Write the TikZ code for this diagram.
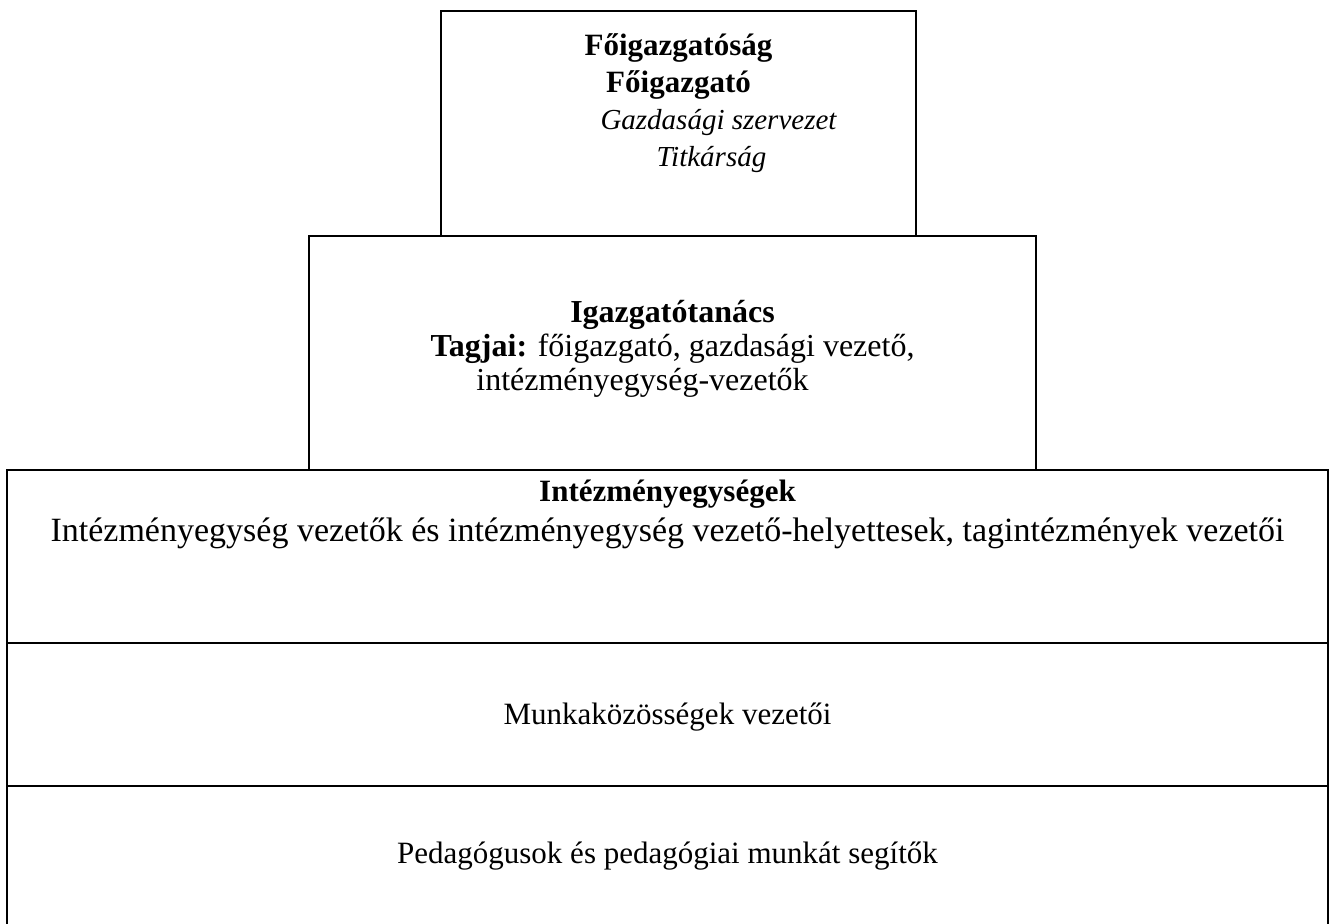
\documentclass[tikz,border=0pt]{standalone}
\usepackage{fontspec}
\setmainfont{Liberation Serif}
\usetikzlibrary{positioning}

\begin{document}
\begin{tikzpicture}[x=0.5pt, y=-0.5pt,
  level/.style={draw, line width=1.3pt, rectangle, outer sep=0pt, inner sep=0pt},
  txt/.style={align=center, inner sep=0pt, font=\fontsize{15.5}{18.5}\selectfont}]
  \useasboundingbox (0,0) rectangle (1332,924);
  % the levels, top to bottom
  \node[level, minimum width=237.5pt, minimum height=112.5pt] (fo) at (678.5,123.5) {};
  \node[level, minimum width=363.5pt, minimum height=117pt] (igt) at (672.5,353) {};
  \node[level, minimum width=660.5pt, minimum height=86.5pt] (ie) at (667.5,556.5) {};
  \node[level, minimum width=660.5pt, minimum height=71.5pt] (mk) at (667.5,714.5) {};
  \node[level, minimum width=660.5pt, minimum height=70pt] (ped) at (667.5,856) {};
  % texts
  \node[txt, below=11pt of fo.north] (fo-t) {\bfseries Főigazgatóság\\
    \bfseries Főigazgató\\
    \hspace*{40pt}{\fontsize{14.5}{18.8}\selectfont\itshape Gazdasági szervezet}\\
    \hspace*{33pt}{\fontsize{14.5}{18.8}\selectfont\itshape Titkárság}};
  \node[txt, font=\fontsize{16}{17}\selectfont, below=32pt of igt.north] (igt-t) {\bfseries Igazgatótanács\\
    \textbf{Tagjai:} főigazgató, gazdasági vezető,\\
    intézményegység-vezetők\hspace*{30pt}};
  \node[txt, font=\fontsize{15.5}{17}\selectfont, below=5pt of ie.north] (ie-t) {\bfseries Intézményegységek\\[3pt]
    {\fontsize{17}{17}\selectfont Intézményegység vezetők és intézményegység vezető-helyettesek, tagintézmények vezetői}};
  \node[txt, yshift=-1.5pt] (mk-t) at (mk.center) {Munkaközösségek vezetői};
  \node[txt, above=-7.5pt of ped.center] (ped-t) {Pedagógusok és pedagógiai munkát segítők};
\end{tikzpicture}
\end{document}
